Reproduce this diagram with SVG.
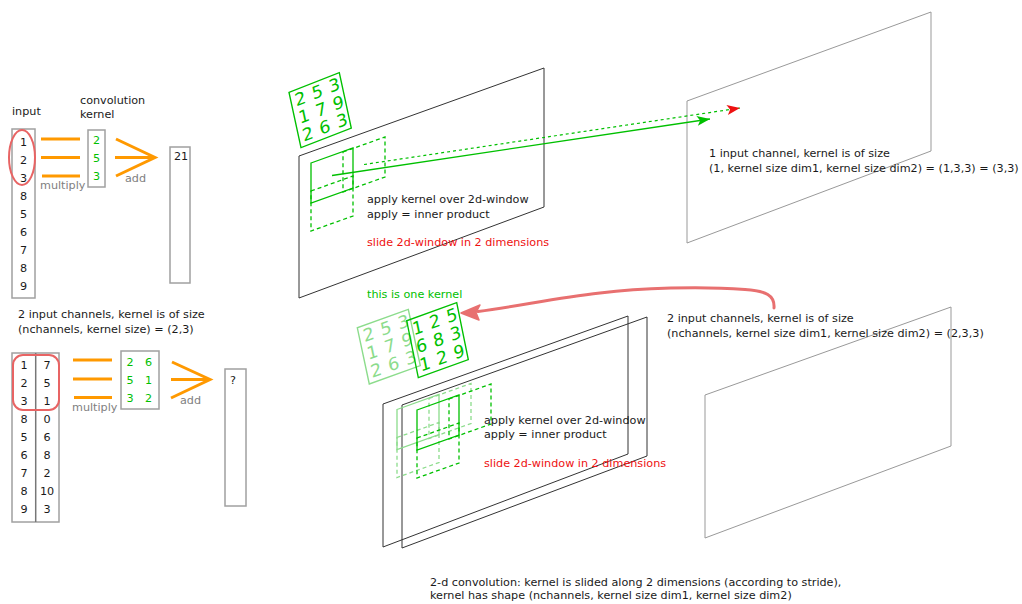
<svg xmlns="http://www.w3.org/2000/svg" width="1022" height="604" viewBox="0 0 1022 604">
<style>
text{font-family:"DejaVu Sans","Liberation Sans",sans-serif;font-size:11.2px;fill:#1a1a1a}
.g{fill:#00c000}
.lg{fill:#8cdc8c}
.gray{fill:#808080}
.red{fill:#ee1111}
.mid{text-anchor:middle}
.big{font-size:16.5px;text-anchor:middle}
.box{fill:none;stroke:#a0a0a0;stroke-width:1.5}
.plane{fill:none;stroke:#333;stroke-width:1}
.plane2{fill:none;stroke:#999;stroke-width:1}
.or{stroke:#ff9900;stroke-width:3;fill:none}
.ksq{fill:none;stroke-width:1.3}
.dash{stroke-dasharray:4,3}
</style>
<defs>
<marker id="ag" viewBox="-14 -6 15 12" markerWidth="15" markerHeight="12" refX="0" refY="0" orient="auto" markerUnits="userSpaceOnUse">
<path d="M0,0 L-13,-5 L-10,0 L-13,5 Z" fill="#00c000"/>
</marker>
<marker id="ar" viewBox="-14 -6 15 12" markerWidth="15" markerHeight="12" refX="0" refY="0" orient="auto" markerUnits="userSpaceOnUse">
<path d="M0,0 L-13,-5 L-10,0 L-13,5 Z" fill="#ee1111"/>
</marker>
<g id="win" fill="none" stroke-width="1.3">
<path d="M0,15 L42,0 L42,40 L0,55 Z"/>
<path class="dash" d="M32,4 L74,-11 L74,29 L32,44 Z"/>
<path class="dash" d="M0,43 L42,28 L42,68 L0,83 Z"/>
</g>
</defs>

<g id="input-1d">
<text x="12" y="115">input</text>
<rect class="box" x="12" y="129" width="23" height="169"/>
<text class="mid" x="23.5" y="146">1</text>
<text class="mid" x="23.5" y="164">2</text>
<text class="mid" x="23.5" y="182">3</text>
<text class="mid" x="23.5" y="200">8</text>
<text class="mid" x="23.5" y="218">5</text>
<text class="mid" x="23.5" y="236">6</text>
<text class="mid" x="23.5" y="253.5">7</text>
<text class="mid" x="23.5" y="271.5">8</text>
<text class="mid" x="23.5" y="289.5">9</text>
<ellipse cx="22" cy="157.5" rx="13" ry="27.5" fill="none" stroke="#e86464" stroke-width="2"/>
</g>

<g id="kernel-1d">
<text x="80" y="104">convolution</text>
<text x="80" y="118">kernel</text>
<rect class="box" x="88" y="130" width="17" height="57"/>
<text class="g mid" x="96.5" y="144">2</text>
<text class="g mid" x="96.5" y="162">5</text>
<text class="g mid" x="96.5" y="180">3</text>
</g>

<g id="result-1d">
<rect class="box" x="170" y="147" width="20" height="136"/>
<text x="174" y="160">21</text>
</g>

<g id="input-2ch">
<text x="18" y="318">2 input channels, kernel is of size</text>
<text x="18" y="332.5">(nchannels, kernel size) = (2,3)</text>
<rect class="box" x="12" y="353" width="47" height="169"/>
<line x1="35.7" y1="353" x2="35.7" y2="522" stroke="#777" stroke-width="1.5"/>
<g class="mid">
<text class="mid" x="24" y="369">1</text><text class="mid" x="47" y="369">7</text>
<text class="mid" x="24" y="387">2</text><text class="mid" x="47" y="387">5</text>
<text class="mid" x="24" y="405">3</text><text class="mid" x="47" y="405">1</text>
<text class="mid" x="24" y="423">8</text><text class="mid" x="47" y="423">0</text>
<text class="mid" x="24" y="441">5</text><text class="mid" x="47" y="441">6</text>
<text class="mid" x="24" y="459">6</text><text class="mid" x="47" y="459">8</text>
<text class="mid" x="24" y="477">7</text><text class="mid" x="47" y="477">2</text>
<text class="mid" x="24" y="495">8</text><text class="mid" x="47" y="495">10</text>
<text class="mid" x="24" y="513">9</text><text class="mid" x="47" y="513">3</text>
</g>
<rect x="13" y="355" width="46" height="55" rx="10" fill="none" stroke="#e86464" stroke-width="2"/>
</g>

<g id="kernel-2ch">
<rect class="box" x="121" y="351" width="38" height="58"/>
<text class="g mid" x="130" y="366">2</text><text class="g mid" x="148.5" y="366">6</text>
<text class="g mid" x="130" y="384">5</text><text class="g mid" x="148.5" y="384">1</text>
<text class="g mid" x="130" y="402">3</text><text class="g mid" x="148.5" y="402">2</text>
</g>

<g id="result-2ch">
<rect class="box" x="225" y="369" width="21" height="137"/>
<text x="230" y="384">?</text>
</g>

<g id="plane-top-in">
<polygon class="plane" points="299,156 544,68 544,207 299,298"/>
<use href="#win" transform="translate(311,148)" stroke="#00c000"/>
<text x="367" y="203">apply kernel over 2d-window</text>
<text x="367" y="218">apply = inner product</text>
<text class="red" x="367" y="246">slide 2d-window in 2 dimensions</text>
</g>

<g id="kernel-top" transform="matrix(1.006,-0.392,0.218,1.007,289,92.3)">
<rect class="ksq" x="0" y="0" width="50" height="55" stroke="#00c000"/>
<text class="big g" x="9" y="15.5">2</text><text class="big g" x="26" y="15.5">5</text><text class="big g" x="43" y="15.5">3</text>
<text class="big g" x="9" y="33">1</text><text class="big g" x="26" y="33">7</text><text class="big g" x="43" y="33">9</text>
<text class="big g" x="9" y="50.5">2</text><text class="big g" x="26" y="50.5">6</text><text class="big g" x="43" y="50.5">3</text>
</g>

<g id="plane-top-out">
<polygon class="plane2" points="687,101 931,12 931,151 687,243"/>
<text x="709" y="157">1 input channel, kernel is of size</text>
<text x="709" y="171.5">(1, kernel size dim1, kernel size dim2) = (1,3,3) = (3,3)</text>
</g>

<g id="planes-bottom-in">
<polygon class="plane" points="383,404 628,316 628,454 383,547"/>
<polygon class="plane" points="402,405 647,317 647,456 402,548"/>
<use href="#win" transform="translate(397,394.5)" stroke="#8cdc8c"/>
<use href="#win" transform="translate(417,395)" stroke="#00c000"/>
<text x="484" y="424">apply kernel over 2d-window</text>
<text x="484" y="438">apply = inner product</text>
<text class="red" x="484" y="466.5">slide 2d-window in 2 dimensions</text>
</g>

<g id="kernel-bottom-back" transform="matrix(1.02,-0.368,0.218,1.024,357.3,327.7)">
<rect class="ksq" x="0" y="0" width="50" height="55" stroke="#8cdc8c"/>
<text class="big lg" x="9" y="15.5">2</text><text class="big lg" x="26" y="15.5">5</text><text class="big lg" x="43" y="15.5">3</text>
<text class="big lg" x="9" y="33">1</text><text class="big lg" x="26" y="33">7</text><text class="big lg" x="43" y="33">9</text>
<text class="big lg" x="9" y="50.5">2</text><text class="big lg" x="26" y="50.5">6</text><text class="big lg" x="43" y="50.5">3</text>
</g>

<g id="kernel-bottom-front" transform="matrix(1,-0.36,0.211,1.036,406.7,320.7)">
<rect class="ksq" x="0" y="0" width="50" height="55" stroke="#00c000"/>
<text class="big g" x="9" y="15.5">1</text><text class="big g" x="26" y="15.5">2</text><text class="big g" x="43" y="15.5">5</text>
<text class="big g" x="9" y="33">6</text><text class="big g" x="26" y="33">8</text><text class="big g" x="43" y="33">3</text>
<text class="big g" x="9" y="50.5">1</text><text class="big g" x="26" y="50.5">2</text><text class="big g" x="43" y="50.5">9</text>
</g>
<text class="g" x="367" y="298">this is one kernel</text>

<g id="plane-bottom-out">
<polygon class="plane2" points="705,395 951,307 951,446 705,538"/>
<text x="667" y="322">2 input channels, kernel is of size</text>
<text x="667" y="336.5">(nchannels, kernel size dim1, kernel size dim2) = (2,3,3)</text>
</g>

<g id="caption">
<text x="430" y="586">2-d convolution: kernel is slided along 2 dimensions (according to stride),</text>
<text x="430" y="599">kernel has shape (nchannels, kernel size dim1, kernel size dim2)</text>
</g>

<g id="connectors">
<line class="or" x1="41" y1="139" x2="80" y2="139"/>
<line class="or" x1="41" y1="157.5" x2="80" y2="157.5"/>
<line class="or" x1="42" y1="176" x2="80" y2="176"/>
<path class="or" d="M116,139 L155,157.5 L116,176 M115,157.5 L155,157.5"/>
<text class="gray" x="40" y="189">multiply</text>
<text class="gray" x="125" y="181.5">add</text>
<line class="or" x1="73" y1="360" x2="112" y2="360"/>
<line class="or" x1="73" y1="379" x2="112" y2="379"/>
<line class="or" x1="74" y1="397.5" x2="112" y2="397.5"/>
<path class="or" d="M172,362 L210,379.5 L171,398 M171,379.5 L210,379.5"/>
<text class="gray" x="72" y="410.5">multiply</text>
<text class="gray" x="180" y="404">add</text>
<line x1="332" y1="175.5" x2="710" y2="119" stroke="#00c000" stroke-width="1.3" marker-end="url(#ag)"/>
<line x1="364" y1="164.5" x2="740" y2="108" stroke="#00c000" stroke-width="1.2" stroke-dasharray="3,3" marker-end="url(#ar)"/>
<path d="M774,308 C775,295 766,291 745,289.5 C700,286 640,288 600,293 C555,298 520,306 478,311.5" fill="none" stroke="#e87070" stroke-width="3" stroke-linecap="round"/>
<path d="M461,313 L480,305 L476,312.5 L479,320 Z" fill="#e87070" stroke="#e87070" stroke-width="1.5" stroke-linejoin="round"/>
</g>
</svg>
